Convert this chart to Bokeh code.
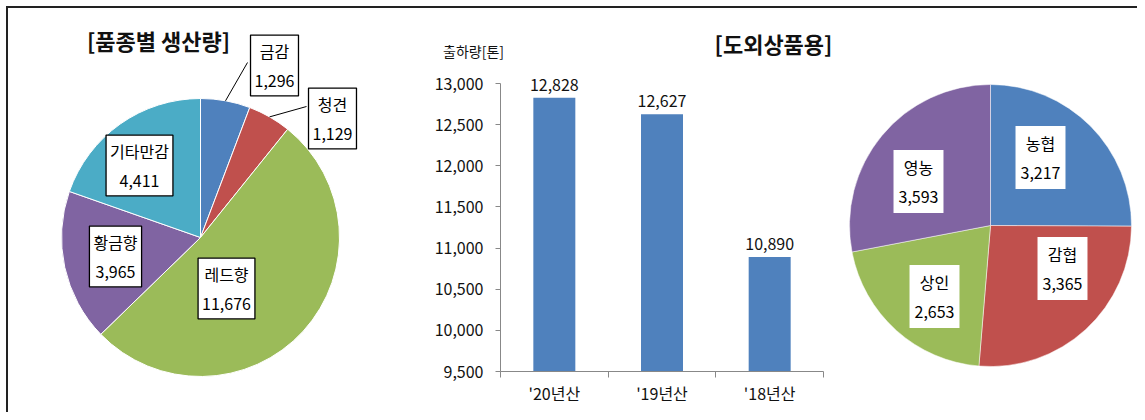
import numpy as np
from bokeh.plotting import figure
from bokeh.models import ColumnDataSource, Range1d, FixedTicker, Label, LabelSet, NumeralTickFormatter
from bokeh.layouts import row
from bokeh.embed import file_html
from bokeh.resources import INLINE
from bokeh.core.properties import value

# ---------------- data ----------------
variety_names = ["금감", "청견", "레드향", "황금향", "기타만감"]
variety_values = [1296, 1129, 11676, 3965, 4411]
variety_colors = ["#4F81BD", "#C0504D", "#9BBB59", "#8064A2", "#4BACC6"]

years = ["'20년산", "'19년산", "'18년산"]
shipments = [12828, 12627, 10890]
y_ticks = [9500, 10000, 10500, 11000, 11500, 12000, 12500, 13000]

channel_names = ["농협", "감협", "상인", "영농"]
channel_values = [3217, 3365, 2653, 3593]
channel_colors = ["#4F81BD", "#C0504D", "#9BBB59", "#8064A2"]

FONT = "Noto Sans CJK KR"
H = 404


def pie_fig(x0, x1):
    p = figure(width=x1 - x0, height=H, x_range=Range1d(x0, x1), y_range=Range1d(8, 8 + H),
               output_backend="svg", toolbar_location=None, min_border=0, frame_align=False)
    p.axis.visible = False
    p.grid.visible = False
    p.outline_line_color = None
    p.background_fill_color = "white"
    p.border_fill_color = "white"
    return p


def py(y):  # page y (from top) -> data y
    return 420 - y


def wedges(vals):
    v = np.array(vals, dtype=float)
    cum = np.cumsum(v) / v.sum()
    prev = np.concatenate([[0], cum[:-1]])
    start = np.pi / 2 - 2 * np.pi * prev
    end = np.pi / 2 - 2 * np.pi * cum
    mid = np.pi / 2 - 2 * np.pi * (prev + cum) / 2
    return start, end, mid


# ---------------- left pie ----------------
p1 = pie_fig(8, 400)
cx1, cy1, r1 = 200, py(237), 139
s1, e1, m1 = wedges(variety_values)
src1 = ColumnDataSource(dict(start=s1, end=e1, color=variety_colors))
p1.wedge(x=cx1, y=cy1, radius=r1, start_angle="start", end_angle="end", direction="clock",
         fill_color="color", line_color="white", line_width=1, source=src1)

lab1_x = [274, 332, 226, 115, 139]
lab1_y = [py(65), py(118), py(288), py(256), py(165)]
texts1 = [f"{n}\n{v:,}" for n, v in zip(variety_names, variety_values)]

# leader lines for small slices (from slice edge to label box)
for i, (bx0, by0) in enumerate([(247, 62), (306, 106)]):
    ex = cx1 + r1 * np.cos(m1[i])
    ey = cy1 + r1 * np.sin(m1[i])
    p1.line(x=[ex, bx0], y=[ey, py(by0)], line_color="black", line_width=1)

p1.text(x=lab1_x, y=lab1_y, text=texts1, text_align="center", text_baseline="middle",
        text_font=value(FONT), text_font_size="16px", text_color="black", text_line_height=1.2,
        background_fill_color="white", border_line_color="black", border_line_width=1.3, padding=4)

p1.add_layout(Label(x=158, y=py(39), text="[품종별 생산량]", text_align="center", text_baseline="middle",
                    text_font=FONT, text_font_size="22px", text_font_style="bold", text_color="#111"))

# ---------------- bar chart ----------------
fig2_x0, fig2_x1 = 400, 845
px_per_cat = 107.67
units_per_px = 3500 / 288


def bx(x):  # page x -> data x in bar chart
    return (x - 500) / px_per_cat


def by_(y):  # page y -> data y in bar chart
    return 9500 + (371 - y) * units_per_px


p2 = figure(width=fig2_x1 - fig2_x0, height=H, x_range=Range1d(bx(fig2_x0), bx(fig2_x1)),
            y_range=Range1d(by_(8 + H), by_(8)), output_backend="svg", toolbar_location=None,
            frame_align=False, min_border=0)
p2.grid.visible = False
p2.outline_line_color = None
p2.border_fill_color = "white"

xc = np.arange(len(years)) + 0.5
src2 = ColumnDataSource(dict(x=xc, top=shipments, label=[f"{v:,}" for v in shipments]))
p2.vbar(x="x", top="top", bottom=9500, width=0.39, fill_color="#4F81BD", line_color=None, source=src2)
p2.add_layout(LabelSet(x="x", y="top", text="label", source=src2, text_align="center",
                       text_baseline="bottom", y_offset=7, text_font=value(FONT), text_font_size="16px",
                       text_color="#111"))

ya = p2.yaxis[0]
ya.fixed_location = 0
ya.ticker = FixedTicker(ticks=y_ticks)
ya.formatter = NumeralTickFormatter(format="0,0")
ya.bounds = (9500, 13000)
ya.axis_line_color = "#888888"
ya.major_tick_line_color = "#888888"
ya.major_tick_out = 5
ya.major_tick_in = 0
ya.minor_tick_line_color = None
ya.major_label_standoff = 12
ya.major_label_text_font = FONT
ya.major_label_text_font_size = "16px"
ya.major_label_text_color = "#111"

xa = p2.xaxis[0]
xa.fixed_location = 9500
xa.bounds = (0, len(years))
xa.ticker = FixedTicker(ticks=list(xc), minor_ticks=list(range(len(years) + 1)))
xa.major_label_overrides = {float(c): yr for c, yr in zip(xc, years)}
xa.axis_line_color = "#888888"
xa.major_tick_line_color = None
xa.minor_tick_line_color = "#888888"
xa.minor_tick_out = 6
xa.minor_tick_in = 0
xa.major_label_standoff = 3
xa.major_label_text_font = FONT
xa.major_label_text_font_size = "16px"
xa.major_label_text_color = "#111"

p2.add_layout(Label(x=bx(473), y=by_(50), text="출하량[톤]", text_align="center", text_baseline="middle",
                    text_font=FONT, text_font_size="14px", text_color="#111"))
p2.add_layout(Label(x=bx(773), y=by_(42), text="[도외상품용]", text_align="center", text_baseline="middle",
                    text_font=FONT, text_font_size="22px", text_font_style="bold", text_color="#111"))

# ---------------- right pie ----------------
p3 = pie_fig(845, 1137)
cx3, cy3, r3 = 990, py(225), 141
s3, e3, m3 = wedges(channel_values)
src3 = ColumnDataSource(dict(start=s3, end=e3, color=channel_colors))
p3.wedge(x=cx3, y=cy3, radius=r3, start_angle="start", end_angle="end", direction="clock",
         fill_color="color", line_color="white", line_width=0.5, source=src3)

lab3_x = [1040, 1062, 934, 918]
lab3_y = [py(157), py(268), py(296), py(181)]
texts3 = [f"{n}\n{v:,}" for n, v in zip(channel_names, channel_values)]
p3.text(x=lab3_x, y=lab3_y, text=texts3, text_align="center", text_baseline="middle",
        text_font=value(FONT), text_font_size="16px", text_color="black", text_line_height=1.2,
        background_fill_color="white", border_line_color=None, padding=5)

layout = row(p1, p2, p3, styles={"border-top": "2px solid #222", "border-left": "2px solid #222",
                                  "margin-top": "6px", "margin-left": "6px"})

open("out.html", "w").write(file_html(layout, INLINE))
